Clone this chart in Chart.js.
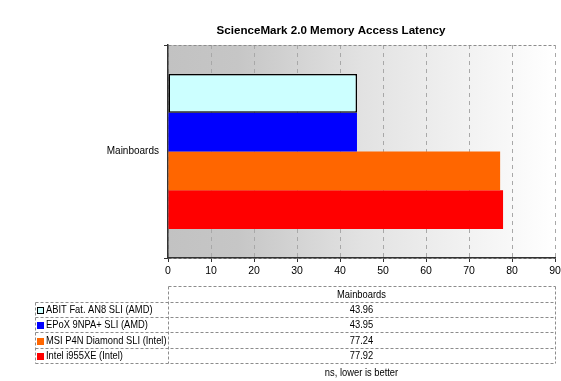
<!DOCTYPE html>
<html>
<head>
<meta charset="utf-8">
<script src="https://cdn.jsdelivr.net/npm/chart.js@4.4.1/dist/chart.umd.min.js"></script>
<style>
  html, body { margin: 0; padding: 0; background: #fff; }
  #wrap { width: 561px; height: 381px; }
</style>
</head>
<body>
<div id="wrap"><canvas id="chart" width="561" height="381"></canvas></div>
<script>
var chartTitle = "ScienceMark 2.0 Memory Access Latency";
var categories = ["Mainboards"];
var seriesNames = ["ABIT Fat. AN8 SLI (AMD)", "EPoX 9NPA+ SLI (AMD)", "MSI P4N Diamond SLI (Intel)", "Intel i955XE (Intel)"];
var seriesValues = [[43.96], [43.95], [77.24], [77.92]];
var seriesColors = ["#ccffff", "#0000ff", "#ff6600", "#ff0000"];
var xMin = 0, xMax = 90, xStep = 10;
var unitNote = "ns, lower is better";

var FONT = "'Liberation Sans', Arial, sans-serif";
var SQUEEZE = 0.85; // reference text is narrower than Liberation Sans

var datasets = seriesNames.map(function (name, i) {
    return {
        label: name,
        data: seriesValues[i],
        backgroundColor: seriesColors[i],
        borderColor: "#000",
        borderWidth: i === 0 ? 1.5 : 0,
        borderSkipped: false,
        categoryPercentage: 0.727,
        barPercentage: 1
    };
});

// grey -> white fill behind the plot
var bgPlugin = {
    id: "bg",
    beforeDraw: function (chart) {
        var a = chart.chartArea, ctx = chart.ctx;
        var g = ctx.createLinearGradient(a.left, 0, a.right, 0);
        g.addColorStop(0, "#c2c2c2");
        g.addColorStop(0.18, "#c6c6c6");
        g.addColorStop(0.5, "#e2e2e2");
        g.addColorStop(1, "#ffffff");
        ctx.save();
        ctx.fillStyle = g;
        ctx.fillRect(a.left, a.top, a.right - a.left, a.bottom - a.top);
        ctx.restore();
    }
};

function squeezedText(ctx, text, x, y, align) {
    ctx.save();
    ctx.translate(x, y);
    ctx.scale(SQUEEZE, 1);
    ctx.textAlign = align;
    ctx.fillText(text, 0, 0);
    ctx.restore();
}

// title + data table under the chart
var tablePlugin = {
    id: "table",
    afterDraw: function (chart) {
        var ctx = chart.ctx, a = chart.chartArea;
        var mid = (a.left + a.right) / 2;
        ctx.save();
        ctx.font = "bold 11.6px " + FONT;
        ctx.fillStyle = "#000";
        ctx.textAlign = "center";
        ctx.textBaseline = "middle";
        ctx.fillText(chartTitle, 331, 30.5);

        var left = 34.5, colX = a.left, right = a.right;
        var headTop = 286, rowH = 15.2;
        var rowsTop = headTop + 16;
        var bottom = rowsTop + rowH * seriesNames.length;

        ctx.strokeStyle = "#8c8c8c";
        ctx.lineWidth = 1;
        ctx.setLineDash([3, 2]);
        function line(x1, y1, x2, y2) {
            ctx.beginPath();
            ctx.moveTo(Math.round(x1) + 0.5, Math.round(y1) + 0.5);
            ctx.lineTo(Math.round(x2) + 0.5, Math.round(y2) + 0.5);
            ctx.stroke();
        }
        line(colX, headTop, right, headTop);
        line(colX, headTop, colX, bottom);
        line(right, headTop, right, bottom);
        line(left, rowsTop, left, bottom);
        for (var r = 0; r <= seriesNames.length; r++) {
            var y = rowsTop + r * rowH;
            line(left, y, right, y);
        }
        ctx.setLineDash([]);

        ctx.font = "11px " + FONT;
        ctx.fillStyle = "#000";
        squeezedText(ctx, categories[0], mid, headTop + 8.5, "center");
        seriesNames.forEach(function (name, i) {
            var cy = rowsTop + i * rowH + rowH / 2 + 0.5;
            ctx.fillStyle = "#000";
            squeezedText(ctx, seriesValues[i][0].toFixed(2), mid, cy, "center");
            ctx.fillStyle = seriesColors[i];
            ctx.fillRect(37, Math.round(cy) - 3, 7, 7);
            if (i === 0) {
                ctx.strokeStyle = "#000";
                ctx.strokeRect(37.5, Math.round(cy) - 2.5, 6, 6);
            }
            ctx.fillStyle = "#000";
            squeezedText(ctx, name, 46, cy, "left");
        });
        squeezedText(ctx, unitNote, mid, bottom + 10, "center");
        ctx.restore();
    }
};

Chart.defaults.font.family = FONT;
Chart.defaults.font.size = 11;
Chart.defaults.color = "#000";

new Chart(document.getElementById("chart"), {
    type: "bar",
    data: { labels: categories, datasets: datasets },
    plugins: [bgPlugin, tablePlugin],
    options: {
        indexAxis: "y",
        responsive: false,
        animation: false,
        layout: { padding: { top: 45, right: 6, bottom: 103, left: 0 } },
        plugins: { legend: { display: false }, tooltip: { enabled: false }, title: { display: false } },
        scales: {
            x: {
                min: xMin, max: xMax,
                ticks: { stepSize: xStep, padding: 3, font: { size: 10.5 } },
                grid: { color: "#a8a8a8", tickColor: "#333", tickLength: 4, tickBorderDash: [] },
                border: { color: "#333", width: 1.5, dash: [4, 4] },
                afterFit: function (s) { s.height = 20; s.paddingRight = 0; s.paddingLeft = 0; }
            },
            y: {
                ticks: { padding: 5, font: { size: 10 } },
                grid: { offset: true, color: "#8c8c8c", tickColor: "#333", tickLength: 4, tickBorderDash: [] },
                border: { color: "#333", width: 1.5, dash: [3, 2] },
                afterFit: function (s) { s.width = 168; s.paddingTop = 0; s.paddingBottom = 0; }
            }
        }
    }
});
</script>
</body>
</html>
